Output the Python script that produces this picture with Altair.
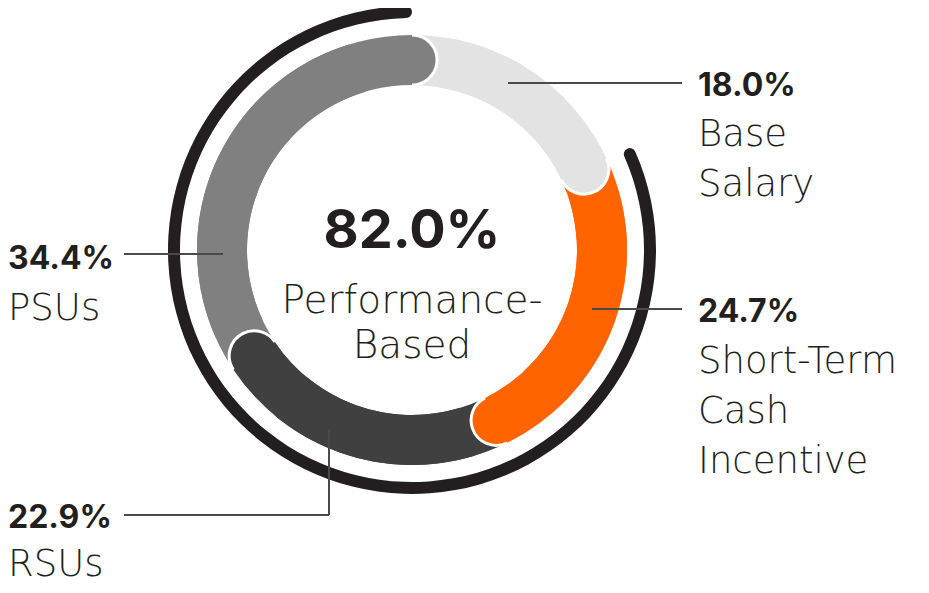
import math
import altair as alt
import pandas as pd

# ---------------- data ----------------
categories = ["Base Salary", "Short-Term Cash Incentive", "RSUs", "PSUs"]
shares = [18.0, 24.7, 22.9, 34.4]
value_labels = ["18.0%", "24.7%", "22.9%", "34.4%"]
name_labels = ["Base\nSalary", "Short-Term\nCash\nIncentive", "RSUs", "PSUs"]
performance_total = 82.0
center_value = "82.0%"
center_name = "Performance-\nBased"

# ---------------- styles / layout ----------------
colors = ["#e3e3e3", "#ff6400", "#404040", "#808080"]
INK = "#231f20"
LEADER = "#4a4a4a"
BOLD_FONT = "Inter"
LIGHT_FONT = "DejaVu Sans"
MARGIN = 8
CX, CY = 412 - MARGIN, 250 - MARGIN          # donut centre (view coords)
R_IN, R_OUT = 165, 215                        # donut ring
HALF = (R_OUT - R_IN) / 2
R_MID = (R_IN + R_OUT) / 2
B_IN, B_OUT = 232, 244                        # outer performance band
CAP = math.degrees(math.asin(HALF / R_MID)) / 3.6   # rounded cap size, percent units
CAP_BACK = 6.0
TRIM = CAP + 0.5

# label anchors (page coords)
label_x = [698, 698, 8, 8]
value_base = [96, 322, 528, 269]
name_base = [146, 373, 576, 320]
# leader line segments (page coords): category index, x, y, x2, y2
leaders = [
    (0, 508, 83, 682, 83),
    (1, 592, 309, 682, 309),
    (2, 124, 515, 329, 515),
    (2, 329, 515, 329, 430),
    (3, 124, 254, 223, 254),
]

# ---------------- tables ----------------
ends = []
acc = 0.0
for s in shares:
    acc += s
    ends.append(acc)
starts = [e - s for e, s in zip(ends, shares)]

seg = pd.DataFrame({"category": categories, "start": starts, "end": ends})
seg["cap_start"] = seg["end"] - CAP_BACK
seg["cap_end"] = seg["end"] + CAP
seg["trim_start"] = seg["start"] + TRIM

band = pd.DataFrame({"start": [100 - performance_total], "end": [100.0]})

labels_df = pd.DataFrame({
    "category": categories,
    "value": value_labels,
    "name": name_labels,
    "x": [v - MARGIN for v in label_x],
    "vy": [v - MARGIN for v in value_base],
    "ny": [v - MARGIN for v in name_base],
})

lead_df = pd.DataFrame({
    "category": [categories[i] for i, *_ in leaders],
    "x": [a - MARGIN for _, a, _b, _c, _d in leaders],
    "y": [b - MARGIN for _, _a, b, _c, _d in leaders],
    "x2": [c - MARGIN for _, _a, _b, c, _d in leaders],
    "y2": [d - MARGIN for _, _a, _b, _c, d in leaders],
})

center_df = pd.DataFrame({"value": [center_value], "name": [center_name]})

theta_scale = alt.Scale(domain=[0, 100], range=[0, 2 * math.pi])
color_scale = alt.Scale(domain=categories, range=colors)
px = dict(scale=None, axis=None)

def ring(data, t1, t2, **mark):
    return alt.Chart(data).mark_arc(innerRadius=R_IN, outerRadius=R_OUT, **mark).encode(
        theta=alt.Theta(f"{t1}:Q", scale=theta_scale, stack=None),
        theta2=alt.Theta2(f"{t2}:Q"),
        color=alt.Color("category:N", scale=color_scale, legend=None),
        x=alt.value(CX),
        y=alt.value(CY),
    )

base_arcs = ring(seg, "start", "end")
cap_arcs = ring(seg, "cap_start", "cap_end", cornerRadius=HALF, stroke="white", strokeWidth=3)
trim_arcs = ring(seg, "trim_start", "end")

band_arc = alt.Chart(band).mark_arc(
    innerRadius=B_IN, outerRadius=B_OUT, cornerRadius=(B_OUT - B_IN) / 2, color=INK
).encode(
    theta=alt.Theta("start:Q", scale=theta_scale, stack=None),
    theta2=alt.Theta2("end:Q"),
    x=alt.value(CX),
    y=alt.value(CY),
)

leader_rules = alt.Chart(lead_df).mark_rule(color=LEADER, strokeWidth=2).encode(
    x=alt.X("x:Q", **px), y=alt.Y("y:Q", **px),
    x2="x2:Q", y2="y2:Q",
)

value_text = alt.Chart(labels_df).mark_text(
    align="left", baseline="alphabetic", font=BOLD_FONT, fontSize=32, fontWeight="bold", color=INK
).encode(x=alt.X("x:Q", **px), y=alt.Y("vy:Q", **px), text="value:N")

name_text = alt.Chart(labels_df).mark_text(
    align="left", baseline="alphabetic", font=LIGHT_FONT, fontSize=37, fontWeight=200, color=INK,
    lineBreak="\n", lineHeight=50,
).encode(x=alt.X("x:Q", **px), y=alt.Y("ny:Q", **px), text="name:N")

center_val = alt.Chart(center_df).mark_text(
    align="center", baseline="alphabetic", font=BOLD_FONT, fontSize=54, fontWeight="bold", color=INK
).encode(x=alt.value(CX), y=alt.value(248 - MARGIN), text="value:N")

center_lbl = alt.Chart(center_df).mark_text(
    align="center", baseline="alphabetic", font=LIGHT_FONT, fontSize=39, fontWeight=200, color=INK,
    lineBreak="\n", lineHeight=45,
).encode(x=alt.value(CX), y=alt.value(313 - MARGIN), text="name:N")

chart = alt.layer(
    band_arc, base_arcs, cap_arcs, trim_arcs, leader_rules,
    value_text, name_text, center_val, center_lbl,
).properties(
    width=929 - 2 * MARGIN,
    height=593 - 2 * MARGIN,
    padding=0,
    autosize=alt.AutoSizeParams(type="none"),
    background="white",
).configure_view(stroke=None)

chart.save("out.html", embed_options={"renderer": "svg", "actions": False})
